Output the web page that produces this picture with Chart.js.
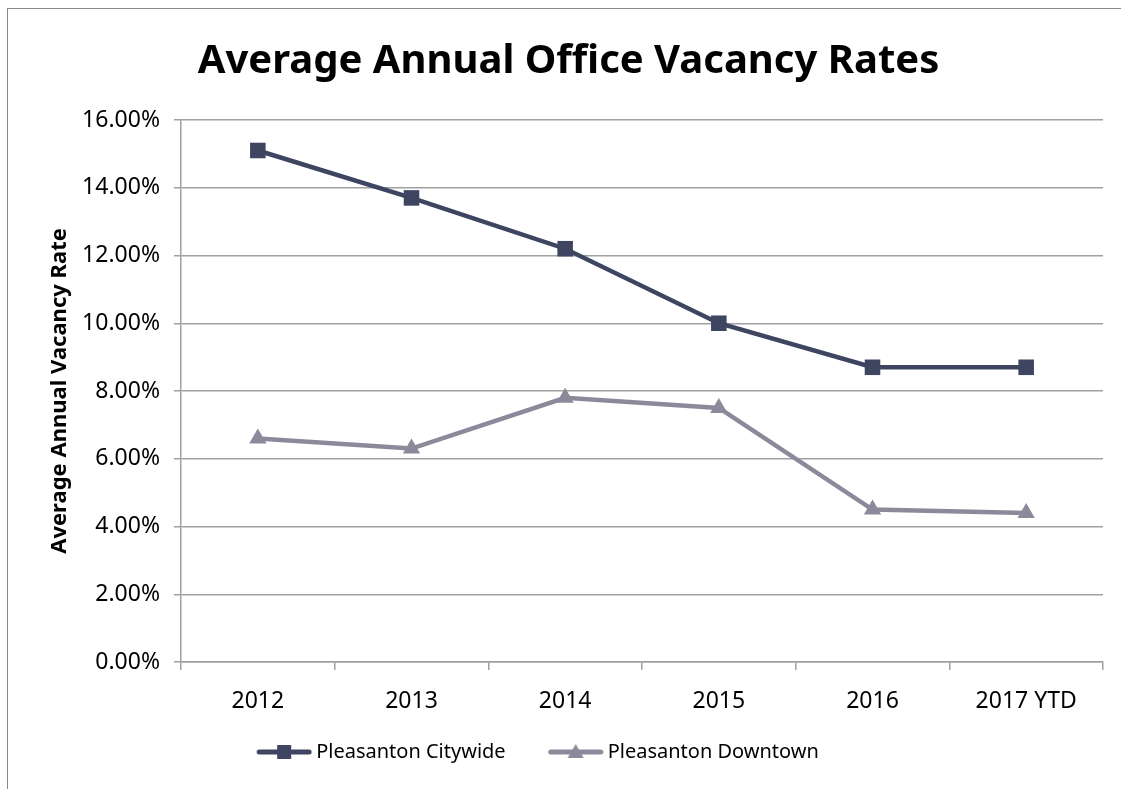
<!DOCTYPE html>
<html lang="en">
<head>
    <meta charset="UTF-8">
    <title>Average Annual Office Vacancy Rates</title>
    <script src="https://cdn.jsdelivr.net/npm/chart.js"></script>
    <style>
        html, body { margin: 0; padding: 0; background: #fff; overflow: hidden; }
        .frame { position: absolute; left: 7px; top: 8px; width: 1300px; height: 1000px; border: 1.5px solid #8a8a8a; }
        .wrap { position: absolute; left: 0; top: 0; width: 1121px; height: 789px; }
    </style>
</head>
<body>
    <div class="frame"></div>
    <div class="wrap"><canvas id="vacancyChart" width="1121" height="789"></canvas></div>

    <script>
        // Chart data
        const years = ['2012', '2013', '2014', '2015', '2016', '2017 YTD'];
        const citywide = [15.1, 13.7, 12.2, 10.0, 8.7, 8.7];
        const downtown = [6.6, 6.3, 7.8, 7.5, 4.5, 4.4];
        const yTicks = [0, 2, 4, 6, 8, 10, 12, 14, 16];

        const cityColor = '#3e4560';
        const downColor = '#8c8a9a';
        const gridColor = '#a0a0a0';
        const font = '"Noto Sans", "Open Sans", sans-serif';

        // legend icon: blank lead-in (acts as gap between items), then line + marker.
        // image is a bit wider than the box so the line sits closer to the text
        const boxW = 82;
        const overhang = 6;
        function legendIcon(color, style) {
            const c = document.createElement('canvas');
            const w = boxW + 2 * overhang;
            c.width = w; c.height = 18;
            const g = c.getContext('2d');
            const x0 = w - 56;
            g.strokeStyle = color;
            g.lineWidth = 5;
            g.lineCap = 'round';
            g.beginPath(); g.moveTo(x0 + 3, 9); g.lineTo(w - 3, 9); g.stroke();
            g.fillStyle = color;
            const cx = x0 + 28;
            if (style === 'rect') {
                g.fillRect(cx - 7, 2, 14, 14);
            } else {
                g.beginPath(); g.moveTo(cx, 1); g.lineTo(cx + 8, 15); g.lineTo(cx - 8, 15); g.closePath(); g.fill();
            }
            return c;
        }

        // nudge title and legend sideways, like the original layout
        const nudge = {
            id: 'nudge',
            afterLayout(chart) {
                if (chart.titleBlock) { chart.titleBlock.left += 17; chart.titleBlock.right += 17; }
                if (chart.legend) { chart.legend.left -= 30; chart.legend.right -= 30; }
            }
        };

        const ctx = document.getElementById('vacancyChart').getContext('2d');
        new Chart(ctx, {
            type: 'line',
            data: {
                labels: years,
                datasets: [
                    {
                        label: 'Pleasanton Citywide',
                        data: citywide,
                        borderColor: cityColor,
                        backgroundColor: cityColor,
                        borderWidth: 4.5,
                        pointStyle: 'rect',
                        pointRadius: 11,
                        pointBorderWidth: 0,
                        tension: 0,
                        fill: false
                    },
                    {
                        label: 'Pleasanton Downtown',
                        data: downtown,
                        borderColor: downColor,
                        backgroundColor: downColor,
                        borderWidth: 4.5,
                        pointStyle: 'triangle',
                        pointRadius: 10,
                        pointBorderWidth: 0,
                        tension: 0,
                        fill: false
                    }
                ]
            },
            plugins: [nudge],
            options: {
                responsive: false,
                animation: false,
                layout: { padding: { top: 38, left: 0, right: 18, bottom: 17 } },
                plugins: {
                    title: {
                        display: true,
                        text: 'Average Annual Office Vacancy Rates',
                        color: '#000',
                        font: { family: font, size: 40, weight: 'bold' },
                        padding: { top: 0, bottom: 34 }
                    },
                    legend: {
                        position: 'bottom',
                        labels: {
                            usePointStyle: true,
                            pointStyleWidth: boxW,
                            boxWidth: boxW,
                            padding: 10,
                            color: '#000',
                            font: { family: font, size: 20 },
                            generateLabels: chart => chart.data.datasets.map((ds, i) => ({
                                text: ds.label,
                                pointStyle: legendIcon(ds.borderColor, i === 0 ? 'rect' : 'triangle'),
                                fillStyle: ds.borderColor,
                                strokeStyle: ds.borderColor,
                                lineWidth: 0,
                                datasetIndex: i,
                                fontColor: '#000'
                            }))
                        }
                    },
                    tooltip: { enabled: false }
                },
                scales: {
                    x: {
                        offset: true,
                        grid: {
                            offset: true,
                            drawOnChartArea: false,
                            drawTicks: true,
                            tickLength: 8,
                            color: gridColor,
                            lineWidth: 1.5
                        },
                        border: { color: gridColor, width: 1.5 },
                        ticks: { color: '#000', padding: 18, font: { family: font, size: 23 } },
                        afterFit: scale => { scale.height = 70; }
                    },
                    y: {
                        min: 0,
                        max: 16,
                        afterBuildTicks: scale => { scale.ticks = yTicks.map(v => ({ value: v })); },
                        grid: { color: gridColor, lineWidth: 1.5, tickLength: 7 },
                        border: { color: gridColor, width: 1.5 },
                        ticks: {
                            color: '#000',
                            padding: 14,
                            font: { family: font, size: 23 },
                            callback: v => v.toFixed(2) + '%'
                        },
                        title: {
                            display: true,
                            text: 'Average Annual Vacancy Rate',
                            color: '#000',
                            font: { family: font, size: 22, weight: 'bold' },
                            padding: { top: 47, bottom: 0 }
                        },
                        afterFit: scale => { scale.width = 181; }
                    }
                }
            }
        });
    </script>
</body>
</html>
